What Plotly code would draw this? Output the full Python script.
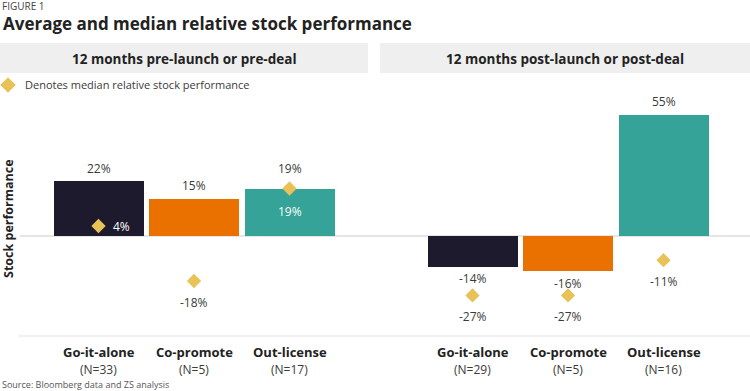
import plotly.graph_objects as go

# ---------------- data ----------------
categories = ["Go-it-alone", "Co-promote", "Out-license"]
pre_n = ["N=33", "N=5", "N=17"]
post_n = ["N=29", "N=5", "N=16"]
pre_avg = [22, 15, 19]
pre_median = [4, -18, 19]
post_avg = [-14, -16, 55]
post_median = [-27, -27, -11]
panel_titles = ["12 months pre-launch or pre-deal", "12 months post-launch or post-deal"]

# ---------------- style ----------------
W, H = 750, 391
FONT = "Open Sans"
bar_colors = ["#1c1a2c", "#ea7100", "#35a398"]
gold = "#e9c257"
txt = "#3a3a3a"


def px(x):
    return x / W


def py(y):
    return 1 - y / H


def note(x, y, text, size, color=txt, xanchor="center", **kw):
    d = dict(x=x, y=y, xref="paper", yref="paper", text=text, showarrow=False,
             xanchor=xanchor, yanchor="middle", font=dict(family=FONT, size=size, color=color))
    d.update(kw)
    return d


fig = go.Figure()

panels = [
    (pre_avg, pre_median, pre_n, "x", "y"),
    (post_avg, post_median, post_n, "x2", "y2"),
]
xs = list(range(len(categories)))

annotations = []
for avg, med, ns, xr, yr in panels:
    fig.add_trace(go.Bar(
        x=xs, y=avg, xaxis=xr, yaxis=yr, width=0.94,
        marker=dict(color=bar_colors, line=dict(width=0)),
        hoverinfo="skip", showlegend=False,
    ))
    fig.add_trace(go.Scatter(
        x=xs, y=med, xaxis=xr, yaxis=yr, mode="markers",
        marker=dict(symbol="diamond", size=11, color=gold, line=dict(width=0)),
        hoverinfo="skip", showlegend=False, cliponaxis=False,
    ))
    for i, (a, m, n, c) in enumerate(zip(avg, med, ns, categories)):
        near = abs(a - m) < 3
        if a >= 0:
            ys = 20 if near else 13
        else:
            ys = -12
        annotations.append(dict(
            x=i, y=a, xref=xr, yref=yr, text=f"{a}%", showarrow=False,
            xanchor="center", yanchor="middle",
            yshift=ys, font=dict(family=FONT, size=12, color=txt)))
        if near:
            annotations.append(dict(
                x=i, y=m, xref=xr, yref=yr, text=f"{m}%", showarrow=False,
                xanchor="center", yanchor="middle",
                yshift=-23, font=dict(family=FONT, size=12, color="white")))
        elif 0 < m < a:
            annotations.append(dict(
                x=i, y=m, xref=xr, yref=yr, text=f"{m}%", showarrow=False,
                xanchor="center", yanchor="middle",
                xshift=23, font=dict(family=FONT, size=12, color="white")))
        else:
            annotations.append(dict(
                x=i, y=m, xref=xr, yref=yr, text=f"{m}%", showarrow=False,
                xanchor="center", yanchor="middle",
                yshift=-21, font=dict(family=FONT, size=12, color=txt)))
        annotations.append(dict(
            x=i, y=py(352), xref=xr, yref="paper", text=f"<b>{c}</b>",
            xanchor="center", yanchor="middle",
            showarrow=False, font=dict(family=FONT, size=13, color="#222")))
        annotations.append(dict(
            x=i, y=py(369), xref=xr, yref="paper", text=f"({n})",
            xanchor="center", yanchor="middle",
            showarrow=False, font=dict(family=FONT, size=12, color=txt)))

shapes = [
    dict(type="rect", xref="paper", yref="paper", x0=px(0), x1=px(368),
         y0=py(73), y1=py(43), fillcolor="#efefef", line=dict(width=0), layer="below"),
    dict(type="rect", xref="paper", yref="paper", x0=px(380), x1=px(750),
         y0=py(73), y1=py(43), fillcolor="#efefef", line=dict(width=0), layer="below"),
    dict(type="line", xref="paper", yref="y", x0=px(20), x1=1, y0=0, y1=0,
         line=dict(color="#dcdcdc", width=1.5), layer="below"),
    dict(type="line", xref="paper", yref="paper", x0=px(18), x1=1, y0=py(336), y1=py(336),
         line=dict(color="#ececec", width=1.5), layer="below"),
]
annotations.append(note(px(184), py(59), f"<b>{panel_titles[0]}</b>", 13.5, "#222"))
annotations.append(note(px(565), py(59), f"<b>{panel_titles[1]}</b>", 13.5, "#222"))

fig.add_trace(go.Scatter(
    x=[px(8)], y=[py(85)], xaxis="x3", yaxis="y3", mode="markers",
    marker=dict(symbol="diamond", size=12, color=gold), hoverinfo="skip", showlegend=False))
annotations.append(note(px(23), py(85), "Denotes median relative stock performance", 11, txt, "left"))

annotations.append(note(px(0), py(6), "FIGURE 1", 10, "#444", "left"))
annotations.append(note(px(1), py(24), "<b>Average and median relative stock performance</b>", 17, "#222", "left"))
annotations.append(note(px(8), py(219), "<b>Stock performance</b>", 12.5, "#222", textangle=-90))
annotations.append(note(px(0), py(384), "Source: Bloomberg data and ZS analysis", 9, "#555", "left"))

ydom = [py(335), py(100)]
left_scale = 2.5   # px per %
right_scale = 2.2
fig.update_layout(
    width=W, height=H, margin=dict(l=0, r=0, t=0, b=0),
    paper_bgcolor="white", plot_bgcolor="rgba(0,0,0,0)",
    xaxis=dict(domain=[px(50.75), px(337.25)], range=[-0.5, 2.5], visible=False, fixedrange=True),
    xaxis2=dict(domain=[px(424.75), px(711.25)], range=[-0.5, 2.5], visible=False, anchor="y2", fixedrange=True),
    xaxis3=dict(domain=[0, 1], range=[0, 1], visible=False, anchor="y3"),
    yaxis=dict(domain=ydom, range=[-99 / left_scale, 136 / left_scale], visible=False, fixedrange=True),
    yaxis2=dict(domain=ydom, range=[-99 / right_scale, 136 / right_scale], visible=False, anchor="x2", fixedrange=True),
    yaxis3=dict(domain=[0, 1], range=[0, 1], visible=False, anchor="x3"),
    shapes=shapes, annotations=annotations, bargap=0,
)

fig.write_html("out.html", config=dict(displayModeBar=False),
               post_script="document.body.style.margin='0';document.body.style.overflow='hidden';")
